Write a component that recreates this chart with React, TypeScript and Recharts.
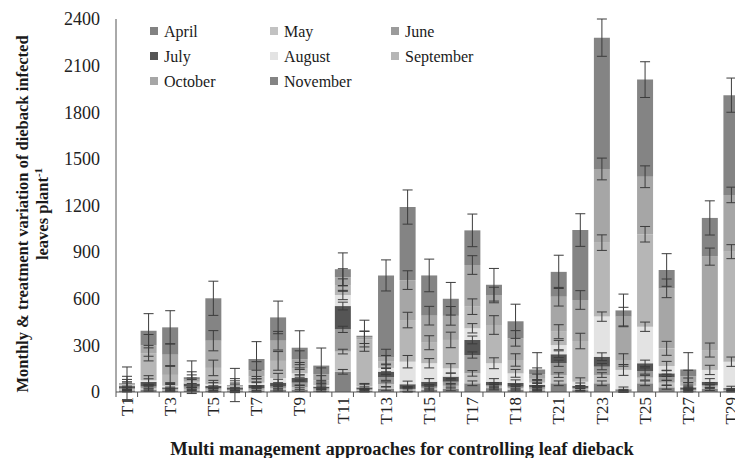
import React from 'react';
import { BarChart, Bar, XAxis, YAxis, ErrorBar } from 'recharts';

const categories = ['T1','T2','T3','T4','T5','T6','T7','T8','T9','T10','T11','T12','T13','T14','T15','T16','T17','T18','T18','T20','T21','T22','T23','T24','T25','T26','T27','T28','T29'];

const april = [10,15,10,10,10,5,10,15,15,10,130,8,20,10,15,20,56,25,15,10,56,12,56,3,56,30,5,20,5];
const may = [8,10,5,10,5,5,5,10,15,5,130,5,30,5,10,20,64,10,10,10,53,8,53,3,36,30,5,15,5];
const june = [5,10,5,15,10,5,10,10,30,10,143,5,45,5,9,26,118,10,9,10,76,6,54,3,43,35,5,10,5];
const july = [15,30,10,20,15,15,20,25,30,10,150,12,36,30,32,33,97,21,24,15,58,14,64,8,50,25,15,21,10];
const august = [3,10,10,5,10,3,15,30,30,10,71,5,24,145,119,53,75,119,62,15,59,26,258,125,235,47,10,76,170];
const september = [5,175,70,10,105,4,40,110,30,30,64,305,40,268,132,183,139,246,86,25,86,262,476,64,595,114,20,128,708];
const october = [5,50,130,10,175,4,40,130,60,40,50,12,30,257,174,155,268,193,139,30,225,264,474,279,370,386,40,601,365];
const november = [5,94,176,15,273,4,72,150,75,55,52,10,525,470,259,110,223,66,110,30,160,450,845,40,625,118,45,249,642];

const aprilErr = [8,10,8,10,10,8,10,10,12,8,15,8,12,10,10,12,15,12,10,8,15,10,15,5,15,12,5,10,5];
const mayErr = [10,12,10,10,12,10,12,12,15,10,15,10,15,12,12,15,18,15,12,10,15,12,15,5,15,15,8,12,5];
const juneErr = [15,15,12,20,15,15,15,15,18,12,20,15,20,15,15,20,20,15,15,12,20,15,20,8,20,20,10,15,8];
const julyErr = [20,20,18,25,20,20,20,22,20,18,25,20,20,20,20,22,25,20,20,18,22,18,25,15,20,20,15,20,12];
const augustErr = [25,30,20,30,25,25,25,30,25,20,30,20,25,40,30,30,30,35,25,20,30,25,30,35,30,30,20,30,30];
const septemberErr = [35,50,55,40,50,35,40,60,40,30,40,50,40,50,45,50,50,60,40,30,45,50,50,40,50,45,30,45,45];
const octoberErr = [50,70,70,50,65,45,55,60,55,40,55,40,50,60,60,60,60,50,50,40,60,60,70,60,70,60,40,55,50];
const novemberErr = [105,110,107,105,110,107,112,105,109,113,105,100,100,110,105,105,105,105,110,108,107,105,120,105,115,105,108,110,110];

const seriesNames = ['April','May','June','July','August','September','October','November'];
const seriesValues = [april, may, june, july, august, september, october, november];
const seriesErrors = [aprilErr, mayErr, juneErr, julyErr, augustErr, septemberErr, octoberErr, novemberErr];
const seriesColors = ['#828282','#c2c2c2','#9b9b9b','#555555','#e3e3e3','#b6b6b6','#a6a6a6','#848484'];

const yTicks = [0,300,600,900,1200,1500,1800,2100,2400];

const data = categories.map((name, i) => {
  const row: Record<string, any> = { name };
  seriesNames.forEach((s, k) => {
    row[s] = seriesValues[k][i];
    row[s + 'Err'] = seriesErrors[k][i];
  });
  return row;
});

const CHART_W = 745;
const PLOT_LEFT = 116;
const MARGIN_R = 3;
const PLOT_W = CHART_W - PLOT_LEFT - MARGIN_R;
const BAND = PLOT_W / categories.length;
const AXIS_Y = 392;
const SERIF = 'Liberation Serif';

const XTick = (props: any) => {
  const { x, index, payload } = props;
  const bx = x - BAND / 2;
  return (
    <g>
      <line x1={bx} x2={bx} y1={AXIS_Y} y2={AXIS_Y + 5} stroke="#555" strokeWidth={1} />
      {index % 2 === 0 && (
        <g transform={`translate(${x},${AXIS_Y + 5})`}>
          <text
            x={0}
            y={0}
            transform="rotate(-90)"
            textAnchor="end"
            dy="0.35em"
            style={{ fontFamily: SERIF, fontSize: 17, fill: '#222' }}
          >
            {payload.value}
          </text>
        </g>
      )}
    </g>
  );
};

const YTick = (props: any) => {
  const { y, payload } = props;
  return (
    <text x={100} y={y} dy="0.35em" textAnchor="end" style={{ fontFamily: SERIF, fontSize: 18, fill: '#222' }}>
      {payload.value}
    </text>
  );
};

const textStyle = { fontFamily: SERIF, fill: '#1a1a1a' };

export default function App() {
  const legendCols = [150, 270, 391];
  const legendRows = [31, 56, 81];
  return (
    <div style={{ position: 'absolute', left: 0, top: 0, width: 735, height: 458, overflow: 'hidden', background: '#fff' }}>
      <BarChart
        width={CHART_W}
        height={458}
        data={data}
        margin={{ top: 19, right: MARGIN_R, left: 0, bottom: 0 }}
        barSize={16}
      >
        <XAxis
          dataKey="name"
          interval={0}
          tickLine={false}
          tickSize={0}
          tickMargin={0}
          tick={(p: any) => <XTick {...p} />}
          axisLine={{ stroke: '#555', strokeWidth: 1 }}
          height={66}
        />
        <YAxis
          domain={[0, 2400]}
          ticks={yTicks}
          allowDataOverflow
          tickLine={false}
          tickSize={0}
          tickMargin={16}
          width={PLOT_LEFT}
          axisLine={{ stroke: '#555', strokeWidth: 1 }}
          tick={(p: any) => <YTick {...p} />}
        />
        {seriesNames.map((s, k) => (
          <Bar key={s} dataKey={s} stackId="a" fill={seriesColors[k]} isAnimationActive={false}>
            <ErrorBar dataKey={s + 'Err'} width={5} stroke="#3c3c3c" strokeWidth={1} direction="y" />
          </Bar>
        ))}
      </BarChart>
      <svg width={735} height={458} style={{ position: 'absolute', left: 0, top: 0, pointerEvents: 'none' }}>
        {seriesNames.map((s, k) => {
          const cx = legendCols[k % 3];
          const cy = legendRows[Math.floor(k / 3)];
          return (
            <g key={s}>
              <rect x={cx} y={cy - 4} width={8} height={8} fill={seriesColors[k]} />
              <text x={cx + 14} y={cy} dy="0.35em" style={{ ...textStyle, fontSize: 16 }}>{s}</text>
            </g>
          );
        })}
        <g transform="translate(22,214)">
          <text transform="rotate(-90)" textAnchor="middle" dy="0.35em" style={{ ...textStyle, fontSize: 16.5, fontWeight: 'bold' }}>
            Monthly &amp; treatment variation of dieback infected
          </text>
        </g>
        <g transform="translate(42,214)">
          <text transform="rotate(-90)" textAnchor="middle" dy="0.35em" style={{ ...textStyle, fontSize: 16.5, fontWeight: 'bold' }}>
            <tspan>leaves plant</tspan><tspan dy={-6} style={{ fontSize: 11 }}>-1</tspan>
          </text>
        </g>
        <text x={402} y={449} textAnchor="middle" dy="0.35em" style={{ ...textStyle, fontSize: 18.5, fontWeight: 'bold' }}>
          Multi management approaches for controlling leaf dieback
        </text>
      </svg>
    </div>
  );
}
